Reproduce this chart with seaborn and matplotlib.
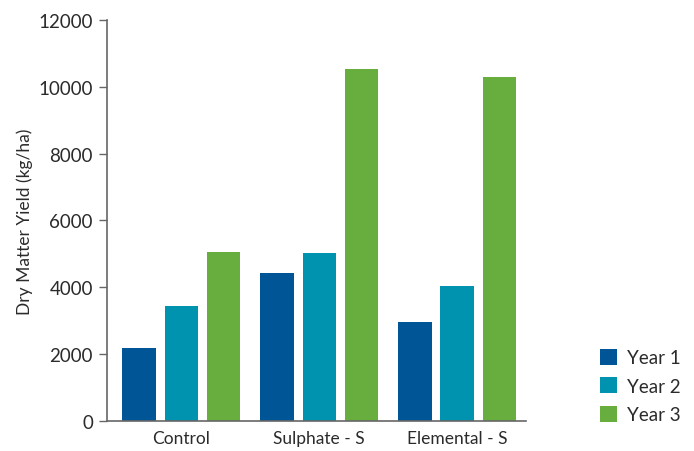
import matplotlib
matplotlib.use('Agg')
import matplotlib.pyplot as plt
import seaborn as sns
import pandas as pd

# Data
treatments = ['Control', 'Sulphate - S', 'Elemental - S']
years = ['Year 1', 'Year 2', 'Year 3']
year1 = [2180, 4420, 2950]
year2 = [3440, 5020, 4030]
year3 = [5050, 10530, 10280]
colors = ['#005596', '#0093b0', '#67ae3e']

df = pd.DataFrame({
    'Treatment': treatments * 3,
    'Year': [y for y in years for _ in treatments],
    'Yield': year1 + year2 + year3,
})

sns.set_style('white')
plt.rcParams['font.family'] = ['Lato', 'DejaVu Sans']
text_col = '#2b2b2b'

fig = plt.figure(figsize=(6.94, 4.52), dpi=100)
ax = fig.add_axes([0.154, 0.066, 0.604, 0.888])

sns.barplot(data=df, x='Treatment', y='Yield', hue='Year', order=treatments,
            hue_order=years, palette=colors, width=0.92, gap=0.21,
            saturation=1, errorbar=None, linewidth=0, ax=ax)

ax.set_xlim(-0.54, 2.5)
ax.set_ylim(0, 12000)
ax.set_yticks(range(0, 12001, 2000))
ax.set_xlabel('')
ax.set_ylabel('Dry Matter Yield (kg/ha)', fontsize=12.5, color=text_col, labelpad=4)

for s in ['top', 'right']:
    ax.spines[s].set_visible(False)
for s in ['left', 'bottom']:
    ax.spines[s].set_color('#666666')
    ax.spines[s].set_linewidth(1.2)

ax.tick_params(axis='y', left=True, length=6, width=1, color='#666666',
               labelsize=13.5, labelcolor=text_col, pad=4)
ax.tick_params(axis='x', bottom=False, labelsize=12.5, labelcolor=text_col, pad=3)

ax.legend(loc='lower left', bbox_to_anchor=(1.153, -0.028), frameon=False,
          borderpad=0, handlelength=0.95, handleheight=0.95, handletextpad=0.5,
          labelspacing=0.58, fontsize=13.5, labelcolor=text_col)

fig.savefig('out.png', dpi=100)
